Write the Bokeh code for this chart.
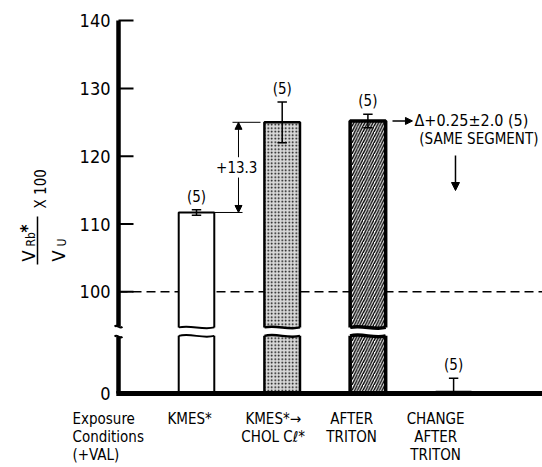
import numpy as np
from bokeh.plotting import figure
from bokeh.models import Range1d, Arrow, NormalHead
from bokeh.core.properties import value
from bokeh.embed import file_html
from bokeh.resources import INLINE

# ---------------- data ----------------
CATEGORIES = ["KMES*", "KMES*\u2192\nCHOL C\u2113*", "AFTER\nTRITON", "CHANGE\nAFTER\nTRITON"]
AXIS_CAPTION = "Exposure\nConditions\n(+VAL)"
VALUES = [111.7, 125.0, 125.2, 0.25]
ERRORS = [0.4, 3.0, 1.0, 2.0]
N = [5, 5, 5, 5]
Y_TICKS = [0, 100, 110, 120, 130, 140]
REFERENCE_LEVEL = 100

# ---------------- broken-axis scale ----------------
BREAK_LO, BREAK_HI = 9.0, 94.0
CUT = BREAK_HI - BREAK_LO


def disp(v):
    v = np.asarray(v, dtype=float)
    return np.where(v <= BREAK_LO, v, v - CUT)


FONT = "Liberation Sans Narrow, DejaVu Sans Condensed, Liberation Sans, sans-serif"
F = value(FONT)
POS = np.arange(1, len(CATEGORIES) + 1, dtype=float)
BAR_W = 0.415
XAXIS = 0.09
X_START, X_END = -1.2870, 5.0373
Y_START, Y_END = -10.914, 57.965

FILL = ["white", "#d8d8d8", "white", "white"]
HATCH = ["blank", "dot", "right_diagonal_line", "blank"]
HATCH_SCALE = [6, 3.5, 5.5, 6]
HATCH_WEIGHT = [1, 1.3, 1.4, 1]
LINE_W = [2, 2.5, 3.5, 2]

p = figure(width=542, height=467, x_range=Range1d(X_START, X_END),
           y_range=Range1d(Y_START, Y_END), output_backend="svg",
           toolbar_location=None, min_border=0)
p.title.visible = False
p.axis.visible = False
p.grid.visible = False
p.outline_line_color = None
p.background_fill_color = "white"
p.border_fill_color = "white"

vals = np.array(VALUES)
errs = np.array(ERRORS)
tops = disp(vals)
ticks = disp(Y_TICKS)

# reference dashed line at 100
p.line(x=[XAXIS, X_END], y=[float(disp(REFERENCE_LEVEL))] * 2, line_color="black",
       line_width=1.5, line_dash="9 5")

# bars
p.vbar(x=POS, width=BAR_W, top=tops, bottom=0, fill_color=FILL, line_color="black",
       line_width=LINE_W, hatch_pattern=HATCH, hatch_scale=HATCH_SCALE,
       hatch_weight=HATCH_WEIGHT, hatch_color="black")

# error bars (clipped at the baseline)
CAP_W = 0.11
hi = disp(vals + errs)
lo_raw = vals - errs
lo = disp(np.maximum(lo_raw, 0))
p.segment(x0=POS, x1=POS, y0=lo, y1=hi, line_color="black", line_width=1.5)
p.segment(x0=POS - CAP_W / 2, x1=POS + CAP_W / 2, y0=hi, y1=hi, line_color="black", line_width=1.5)
keep = lo_raw > 0
p.segment(x0=POS[keep] - CAP_W / 2, x1=POS[keep] + CAP_W / 2, y0=lo[keep], y1=lo[keep],
          line_color="black", line_width=1.5)

# break of the bars
GAP_LO, GAP_HI = 8.5, 9.75
broken = vals > BREAK_HI
bx = POS[broken]
pad = 0.03
p.quad(left=bx - BAR_W / 2 - pad, right=bx + BAR_W / 2 + pad, bottom=GAP_LO, top=GAP_HI,
       fill_color="white", line_color=None)
bl = bx - BAR_W / 2
br = bx + BAR_W / 2
bw = br - bl
lw_b = np.array(LINE_W)[broken]
for yb in (GAP_LO, GAP_HI):
    p.bezier(x0=bl, y0=[yb] * len(bx), x1=br, y1=[yb] * len(bx),
             cx0=bl + bw / 3, cy0=[yb + 0.45] * len(bx),
             cx1=bl + 2 * bw / 3, cy1=[yb - 0.45] * len(bx),
             line_color="black", line_width=lw_b)

# count labels
p.text(x=POS, y=hi, text=[f"({n})" for n in N], text_align="center",
       text_baseline="bottom", y_offset=-4, text_font=F,
       text_font_size="15px", text_color="black")

# y axis line (broken), ticks and tick labels
top_axis = float(ticks[-1])
p.segment(x0=[XAXIS, XAXIS], x1=[XAXIS, XAXIS], y0=[0, GAP_HI + 0.1],
          y1=[GAP_LO - 0.1, top_axis], line_color="black", line_width=4.5)
for yb in (GAP_LO - 0.1, GAP_HI + 0.1):
    p.bezier(x0=[XAXIS - 0.045], y0=[yb], x1=[XAXIS + 0.045], y1=[yb],
             cx0=[XAXIS - 0.015], cy0=[yb + 0.5], cx1=[XAXIS + 0.015], cy1=[yb - 0.5],
             line_color="black", line_width=2)
tp = ticks[1:]
p.segment(x0=[XAXIS] * len(tp), x1=[XAXIS + 0.175] * len(tp), y0=tp, y1=tp,
          line_color="black", line_width=2)
p.text(x=[XAXIS] * len(ticks), y=ticks, text=[str(t) for t in Y_TICKS], x_offset=-8,
       text_align="right", text_baseline="middle", text_font=F,
       text_font_size="18px", text_color="black")

# baseline
p.line(x=[XAXIS - 0.026, X_END], y=[0, 0], line_color="black", line_width=5)

# +13.3 dimension
mid = float((tops[0] + tops[1]) / 2)
DIM_X = POS[0] + 0.49
p.segment(x0=[POS[0] + 0.42, POS[0] + BAR_W / 2], x1=[POS[0] + 0.747, POS[0] + 0.537],
          y0=[tops[1], tops[0]], y1=[tops[1], tops[0]], line_color="black", line_width=1)
p.add_layout(Arrow(x_start=DIM_X, y_start=mid + 1.5, x_end=DIM_X, y_end=float(tops[1]),
                   line_width=1, end=NormalHead(size=7, line_width=1, fill_color="black")))
p.add_layout(Arrow(x_start=DIM_X, y_start=mid - 1.5, x_end=DIM_X, y_end=float(tops[0]),
                   line_width=1, end=NormalHead(size=7, line_width=1, fill_color="black")))
p.text(x=[POS[0] + 0.47], y=[mid], text=[f"+{VALUES[1] - VALUES[0]:.1f}"],
       text_align="center", text_baseline="middle", text_font=F,
       text_font_size="15px", text_color="black")

# delta annotation at the TRITON bar
t3 = float(tops[2])
p.add_layout(Arrow(x_start=POS[2] + 0.287, y_start=t3, x_end=POS[2] + 0.52, y_end=t3,
                   line_width=1.5, end=NormalHead(size=7, line_width=1, fill_color="black")))
p.text(x=[POS[2] + 0.544], y=[t3],
       text=[f"\u0394+{VALUES[3]:.2f}\u00b1{ERRORS[3]:.1f} ({N[3]})"],
       text_align="left", text_baseline="middle", text_font=F,
       text_font_size="16px", text_color="black")
p.text(x=[POS[2] + 0.6], y=[t3 - 2.7], text=["(SAME SEGMENT)"],
       text_align="left", text_baseline="middle", text_font=F,
       text_font_size="15px", text_color="black")
p.add_layout(Arrow(x_start=POS[3] + 0.022, y_start=t3 - 5.1, x_end=POS[3] + 0.022,
                   y_end=t3 - 10.26, line_width=1.5,
                   end=NormalHead(size=8, line_width=1, fill_color="black")))

# category labels
CAT_Y = -2.36
LABEL_SHIFT = [-0.08, -0.105, -0.19, -0.21]
p.text(x=POS + np.array(LABEL_SHIFT), y=[CAT_Y] * len(POS), text=CATEGORIES,
       text_align="center", text_baseline="top", text_font=F,
       text_font_size="15px", text_color="black", text_line_height=1.02)
p.text(x=[-0.447], y=[CAT_Y], text=[AXIS_CAPTION], text_align="left",
       text_baseline="top", text_font=F, text_font_size="15px",
       text_color="black", text_line_height=1.02)

# y-axis title (rotated fraction)
ANG = np.pi / 2
for x, y, t, fs, st in [(-0.9603, 19.47, "V", "18px", "normal"),
                        (-0.9253, 21.68, "Rb", "12px", "normal"),
                        (-0.972, 23.75, "*", "17px", "bold"),
                        (-0.6103, 19.47, "V", "18px", "normal"),
                        (-0.5636, 21.68, "U", "12px", "normal"),
                        (-0.82, 27.29, "X 100", "15px", "normal")]:
    p.text(x=[x], y=[y], text=[t], angle=ANG, text_align="left",
           text_baseline="alphabetic", text_font=F, text_font_size=fs,
           text_font_style=st, text_color="black")
p.segment(x0=[-0.8553], x1=[-0.8553], y0=[19.03], y1=[26.11], line_color="black",
          line_width=1.5)

open("out.html", "w").write(file_html(p, INLINE))
